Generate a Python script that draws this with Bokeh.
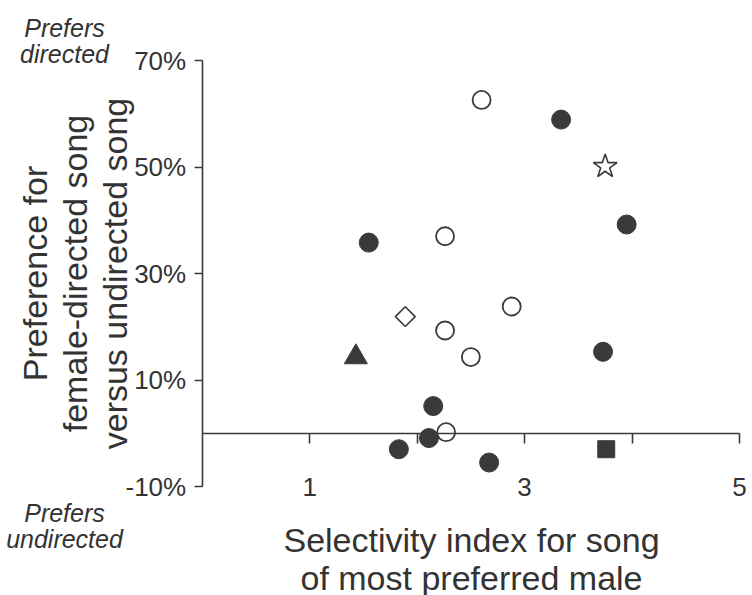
import math
from bokeh.plotting import figure
from bokeh.models import (Range1d, FixedTicker, LinearAxis, PrintfTickFormatter, Label)
from bokeh.embed import file_html
from bokeh.resources import INLINE

# ---- data (selectivity index, % preference for directed song) ----
filled_x = [3.34, 3.95, 1.55, 3.73, 2.15, 2.11, 1.83, 2.67]
filled_y = [58.9, 39.2, 35.8, 15.3, 5.1, -0.9, -3.0, -5.5]
open_x = [2.60, 2.26, 2.88, 2.26, 2.50, 2.27]
open_y = [62.6, 37.0, 23.8, 19.3, 14.3, 0.2]
star_x = [3.75]
star_y = [50.1]
diamond_x = [1.89]
diamond_y = [21.9]
triangle_x = [1.43]
triangle_y = [14.3]
square_x = [3.76]
square_y = [-3.0]

y_ticks = [-10, 10, 30, 50, 70]
y_bounds = (-10, 70)
x_bounds = (0, 5)
x_label_ticks = [1, 3, 5]
x_zero_ticks = [1, 2, 3, 4, 5]

INK = "#3a3a3a"
TXT = "#333333"
FONT = "Liberation Sans"

# ---- page geometry (pixels) ----
W, H = 752, 595
PX_X0, PX_X5 = 201.7, 739.0     # pixel column of x=0 and x=5
PX_Y70, PX_YM10 = 60.0, 486.0   # pixel row of y=70 and y=-10

sx = (PX_X5 - PX_X0) / (x_bounds[1] - x_bounds[0])
sy = (PX_YM10 - PX_Y70) / (y_bounds[1] - y_bounds[0])
x_start = x_bounds[0] - PX_X0 / sx
x_end = x_bounds[1] + (W - PX_X5) / sx
y_end = y_bounds[1] + PX_Y70 / sy
y_start = y_bounds[0] - (H - PX_YM10) / sy

p = figure(width=W, height=H, output_backend="svg", toolbar_location=None,
           x_range=Range1d(x_start, x_end), y_range=Range1d(y_start, y_end),
           x_axis_type=None, y_axis_type=None,
           min_border=0, min_border_left=0, min_border_right=0,
           min_border_top=0, min_border_bottom=0)
p.outline_line_color = None
p.background_fill_color = "white"
p.border_fill_color = "white"

# y axis (at x = 0, limited to -10..70)
ya = LinearAxis(fixed_location=0, bounds=y_bounds, ticker=FixedTicker(ticks=y_ticks),
                formatter=PrintfTickFormatter(format="%d%%"))
ya.axis_line_color = INK
ya.axis_line_width = 1.6
ya.major_tick_line_color = INK
ya.major_tick_line_width = 1.6
ya.major_tick_in = 0
ya.major_tick_out = 8
ya.minor_tick_line_color = None
ya.major_label_text_font = FONT
ya.major_label_text_font_size = "26px"
ya.major_label_text_color = TXT
ya.major_label_standoff = 8
p.add_layout(ya, "left")

# zero line with downward ticks
za = LinearAxis(fixed_location=0, bounds=x_bounds, ticker=FixedTicker(ticks=x_zero_ticks))
za.axis_line_color = INK
za.axis_line_width = 1.6
za.major_tick_line_color = INK
za.major_tick_line_width = 1.6
za.major_tick_in = 0
za.major_tick_out = 10
za.minor_tick_line_color = None
za.major_label_text_font_size = "0px"
za.major_label_text_alpha = 0
p.add_layout(za, "below")

# x tick labels level with the bottom of the y axis (no line)
xa = LinearAxis(fixed_location=y_bounds[0], ticker=FixedTicker(ticks=x_label_ticks))
xa.axis_line_color = None
xa.major_tick_line_color = None
xa.minor_tick_line_color = None
xa.major_tick_in = 0
xa.major_tick_out = 0
xa.major_label_standoff = -9
xa.major_label_text_font = FONT
xa.major_label_text_font_size = "26px"
xa.major_label_text_color = TXT
p.add_layout(xa, "below")

# markers
p.scatter(filled_x, filled_y, marker="circle", size=19, fill_color=INK, line_color=INK, line_width=1)
p.scatter(open_x, open_y, marker="circle", size=18, fill_color="white", line_color=INK, line_width=1.8)
p.scatter(star_x, star_y, marker="star", size=25, fill_color="white", line_color=INK, line_width=1.6)
p.scatter(diamond_x, diamond_y, marker="square", size=14, angle=math.pi / 4,
          fill_color="white", line_color=INK, line_width=1.6)
p.scatter(triangle_x, triangle_y, marker="triangle", size=23, fill_color=INK, line_color=INK, line_width=1)
p.scatter(square_x, square_y, marker="square", size=17, fill_color=INK, line_color=INK, line_width=1)


# --- text annotations, placed by pixel position converted to data space ---
def dx(px):
    return x_bounds[0] + (px - PX_X0) / sx


def dy(py):
    return y_bounds[0] + (PX_YM10 - py) / sy


def add_text(txt, px, py, size, style="normal", angle=0.0):
    p.add_layout(Label(x=dx(px), y=dy(py), text=txt, text_font=FONT, text_font_size=size,
                       text_font_style=style, text_color=TXT, text_align="center",
                       text_baseline="alphabetic", angle=angle))


# x title
add_text("Selectivity index for song", 471, 539, "34px")
add_text("of most preferred male", 471, 577, "34px")

# y title (rotated)
add_text("Preference for", 34, 273, "34px", angle=math.pi / 2)
add_text("female-directed song", 74, 273, "34px", angle=math.pi / 2)
add_text("versus undirected song", 114, 273, "34px", angle=math.pi / 2)

# corner annotations
add_text("Prefers", 64, 27, "25px", style="italic")
add_text("directed", 64, 53, "25px", style="italic")
add_text("Prefers", 64, 512, "25px", style="italic")
add_text("undirected", 64, 538, "25px", style="italic")

open("out.html", "w").write(file_html(p, INLINE))
